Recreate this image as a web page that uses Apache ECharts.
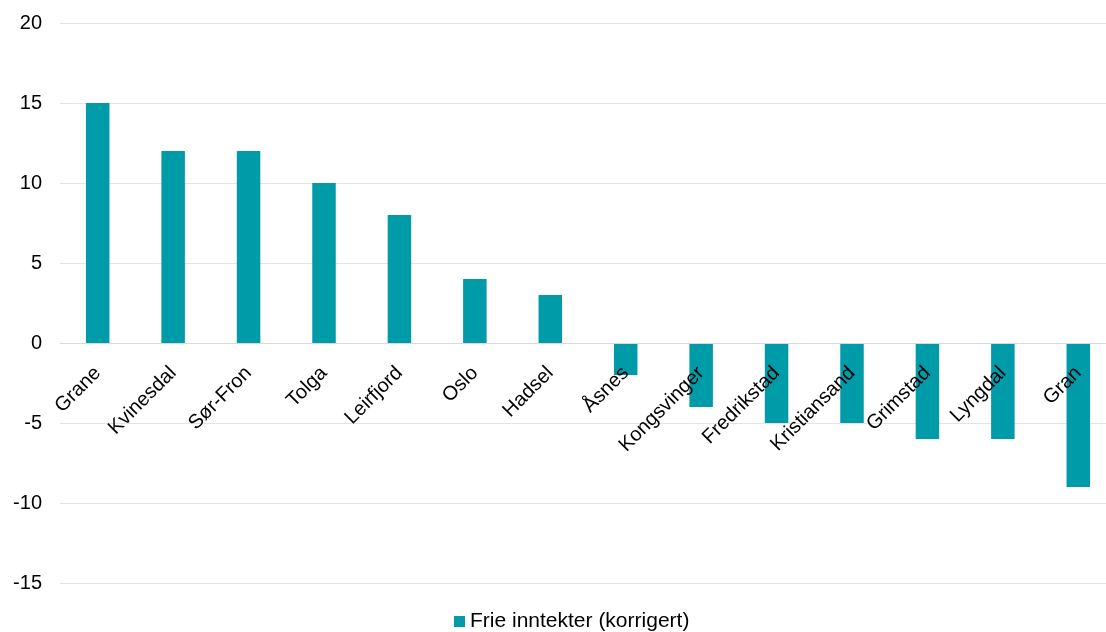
<!DOCTYPE html>
<html>
<head>
<meta charset="utf-8">
<script src="https://cdn.jsdelivr.net/npm/echarts@6/dist/echarts.min.js"></script>
<style>
  html, body { margin: 0; padding: 0; background: #ffffff; }
  #chart { width: 1106px; height: 632px; }
</style>
</head>
<body>
<div id="chart"></div>
<script>
// Municipalities, ordered by value
const categories = ['Grane', 'Kvinesdal', 'Sør-Fron', 'Tolga', 'Leirfjord', 'Oslo', 'Hadsel',
  'Åsnes', 'Kongsvinger', 'Fredrikstad', 'Kristiansand', 'Grimstad', 'Lyngdal', 'Gran'];
const values = [15, 12, 12, 10, 8, 4, 3, -2, -4, -5, -5, -6, -6, -9];
const seriesName = 'Frie inntekter (korrigert)';
const yMin = -15, yMax = 20, yStep = 5;

const font = '"Liberation Sans", Arial, sans-serif';
const chart = echarts.init(document.getElementById('chart'), null, { renderer: 'canvas' });

chart.setOption({
  animation: false,
  backgroundColor: '#ffffff',
  grid: {
    left: 60, top: 23, width: 1056, height: 560,
    containLabel: false,
    outerBoundsMode: 'none'
  },
  legend: {
    data: [seriesName],
    left: 449,
    top: 606,
    itemWidth: 11,
    itemHeight: 11,
    itemGap: 4,
    icon: 'rect',
    textStyle: { fontFamily: font, fontSize: 21, color: '#000000' }
  },
  xAxis: {
    type: 'category',
    data: categories,
    offset: 0,
    axisLine: { onZero: false, lineStyle: { color: '#d9d9d9', width: 1 } },
    axisTick: { show: false },
    axisLabel: {
      rotate: 45,
      interval: 0,
      margin: 27,
      fontFamily: font,
      fontSize: 20,
      color: '#000000'
    },
    z: 10
  },
  yAxis: {
    type: 'value',
    min: yMin,
    max: yMax,
    interval: yStep,
    axisLine: { show: false },
    axisTick: { show: false },
    axisLabel: { margin: 18, fontFamily: font, fontSize: 20, color: '#000000' },
    splitLine: { lineStyle: { color: '#e3e3e3', width: 1 } }
  },
  series: [{
    name: seriesName,
    type: 'bar',
    data: values,
    barWidth: 23.5,
    itemStyle: { color: '#009ba9' }
  }]
});

// Category axis (line and labels) sits on the value axis zero line
const zeroY = chart.convertToPixel({ yAxisIndex: 0 }, 0);
const bottomY = chart.convertToPixel({ yAxisIndex: 0 }, yMin);
chart.setOption({ xAxis: { offset: zeroY - bottomY } });
</script>
</body>
</html>
